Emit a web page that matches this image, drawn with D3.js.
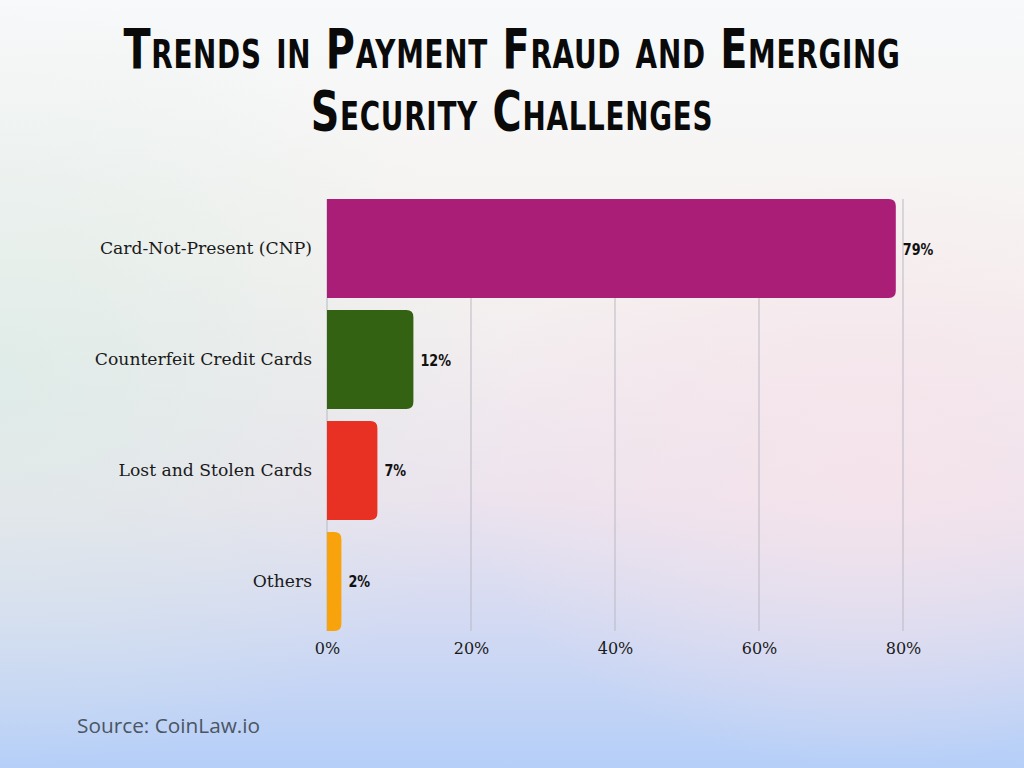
<!DOCTYPE html>
<html>
<head>
<meta charset="utf-8">
<script src="https://cdn.jsdelivr.net/npm/d3@7"></script>
<style>
  html, body { margin: 0; padding: 0; }
  svg { display: block; }
</style>
</head>
<body>
<svg width="1024" height="768"></svg>
<script>
// Data
const categories = ["Card-Not-Present (CNP)", "Counterfeit Credit Cards", "Lost and Stolen Cards", "Others"];
const shares = [79, 12, 7, 2];
const barColors = ["#ab1e78", "#336312", "#e83122", "#f8a30c"];
const tickValues = [0, 20, 40, 60, 80];
const titleLines = ["Trends in Payment Fraud and Emerging", "Security Challenges"];

const svg = d3.select("svg");

// Background gradient
const defs = svg.append("defs");
const bg = defs.append("linearGradient")
    .attr("id", "bg")
    .attr("x1", 0).attr("y1", 0).attr("x2", 0).attr("y2", 1);
[["0%", "#f7f9fa"], ["35%", "#f6f2f0"], ["65%", "#ece3ee"], ["100%", "#b5cff8"]]
    .forEach(s => bg.append("stop").attr("offset", s[0]).attr("stop-color", s[1]));

const green = defs.append("radialGradient")
    .attr("id", "green")
    .attr("cx", 0).attr("cy", 0.5).attr("r", 0.5);
green.append("stop").attr("offset", "0%").attr("stop-color", "#d9ece6").attr("stop-opacity", 0.75);
green.append("stop").attr("offset", "100%").attr("stop-color", "#d9ece6").attr("stop-opacity", 0);

const pink = defs.append("radialGradient")
    .attr("id", "pink")
    .attr("cx", 0.85).attr("cy", 0.6).attr("r", 0.4);
pink.append("stop").attr("offset", "0%").attr("stop-color", "#f7e3ea").attr("stop-opacity", 0.8);
pink.append("stop").attr("offset", "100%").attr("stop-color", "#f7e3ea").attr("stop-opacity", 0);

svg.append("rect").attr("width", 1024).attr("height", 768).attr("fill", "url(#bg)");
svg.append("rect").attr("width", 1024).attr("height", 768).attr("fill", "url(#green)");
svg.append("rect").attr("width", 1024).attr("height", 768).attr("fill", "url(#pink)");

// Title (condensed display look: squeeze horizontally)
svg.append("g")
    .selectAll("text")
    .data(titleLines)
    .join("text")
    .attr("transform", (d, i) => `translate(512,${68 + i * 62}) scale(0.71,1)`)
    .attr("text-anchor", "middle")
    .style("font-family", "'DejaVu Sans', sans-serif")
    .style("font-weight", "bold")
    .style("font-variant", "small-caps")
    .style("font-size", "56px")
    .style("letter-spacing", "1px")
    .attr("fill", "#0a0a0a")
    .text(d => d);

// Scales
const x = d3.scaleLinear()
    .domain([0, 80])
    .range([327, 903]);

const y = d3.scaleBand()
    .domain(categories)
    .range([199, 631])
    .paddingInner(0.108)
    .paddingOuter(0);

// Gridlines
svg.append("g")
    .selectAll("line")
    .data(tickValues)
    .join("line")
    .attr("x1", d => x(d)).attr("x2", d => x(d))
    .attr("y1", 199).attr("y2", 631)
    .attr("stroke", "#b9b9c2")
    .attr("stroke-width", 1);

// Bars with rounded right corners
function barPath(v, cat) {
    const x0 = x(0), x1 = x(v), y0 = y(cat), h = y.bandwidth();
    const r = Math.min(7, (x1 - x0) / 2);
    return `M${x0},${y0}H${x1 - r}Q${x1},${y0} ${x1},${y0 + r}V${y0 + h - r}Q${x1},${y0 + h} ${x1 - r},${y0 + h}H${x0}Z`;
}

const data = categories.map((c, i) => ({ cat: c, value: shares[i], color: barColors[i] }));

svg.append("g")
    .selectAll("path")
    .data(data)
    .join("path")
    .attr("d", d => barPath(d.value, d.cat))
    .attr("fill", d => d.color);

// Value labels
svg.append("g")
    .selectAll("text")
    .data(data)
    .join("text")
    .attr("transform", d => `translate(${x(d.value) + 7},${y(d.cat) + y.bandwidth() / 2 + 6}) scale(0.8,1)`)
    .style("font-family", "'DejaVu Sans', sans-serif")
    .style("font-weight", "bold")
    .style("font-size", "16px")
    .attr("fill", "#111")
    .text(d => d.value + "%");

// Category labels (y axis)
const yAxis = svg.append("g")
    .attr("transform", `translate(${x(0)},0)`)
    .call(d3.axisLeft(y).tickSize(0).tickPadding(15));
yAxis.select(".domain").remove();
yAxis.selectAll("text")
    .style("font-family", "'DejaVu Serif', serif")
    .style("font-size", "17.2px")
    .attr("fill", "#1a1a1a");

// X axis tick labels
const xAxis = svg.append("g")
    .attr("transform", "translate(0,631)")
    .call(d3.axisBottom(x).tickValues(tickValues).tickSize(0).tickPadding(12).tickFormat(d => d + "%"));
xAxis.select(".domain").remove();
xAxis.selectAll("text")
    .style("font-family", "'DejaVu Serif', serif")
    .style("font-size", "16px")
    .attr("fill", "#1a1a1a");

// Source
svg.append("text")
    .attr("x", 77)
    .attr("y", 733)
    .style("font-family", "'Open Sans', sans-serif")
    .style("font-size", "20.8px")
    .attr("fill", "#4b5563")
    .text("Source: CoinLaw.io");
</script>
</body>
</html>
